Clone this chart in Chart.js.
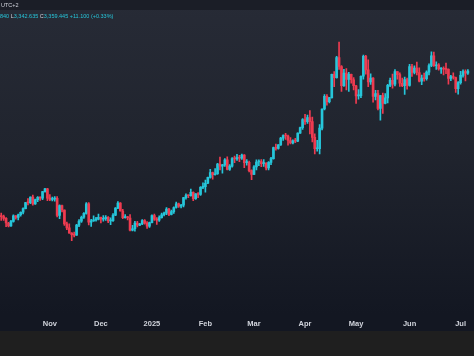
<!DOCTYPE html>
<html><head><meta charset="utf-8">
<script src="https://cdn.jsdelivr.net/npm/chart.js@4"></script>
<style>
html,body{margin:0;padding:0;width:474px;height:356px;overflow:hidden;background:#1f1f1f;}
#wrap{position:absolute;left:0;top:0;width:474px;height:331px;background:linear-gradient(to bottom,#272b36 0%,#20242e 45%,#131722 95%,#131722 100%);}
#topbar{position:absolute;left:0;top:0;width:474px;height:10px;background:#1b1e27;}
.t{position:absolute;font-family:"Liberation Sans",sans-serif;font-size:5.5px;line-height:6px;white-space:nowrap;}
canvas{position:absolute;left:0;top:0;}
</style></head>
<body>
<div id="wrap"></div>
<canvas id="c" width="474" height="340" style="width:474px;height:340px"></canvas>
<div id="topbar"></div>
<div class="t" style="left:1px;top:2px;color:#d1d4dc">UTC+2</div>
<div class="t" style="left:0px;top:13px;color:#d1d4dc"><span style="color:#26c6da">840</span> L<span style="color:#26c6da">3,342.635</span> C<span style="color:#26c6da">3,359.445</span> <span style="color:#26c6da">+11.100 (+0.33%)</span></div>
<script>
const dates = [
'2024-10-03','2024-10-04','2024-10-07','2024-10-08','2024-10-09','2024-10-10','2024-10-11','2024-10-14','2024-10-15','2024-10-16','2024-10-17','2024-10-18','2024-10-21','2024-10-22','2024-10-23','2024-10-24','2024-10-25','2024-10-28','2024-10-29','2024-10-30','2024-10-31',
'2024-11-01','2024-11-04','2024-11-05','2024-11-06','2024-11-07','2024-11-08','2024-11-11','2024-11-12','2024-11-13','2024-11-14','2024-11-15','2024-11-18','2024-11-19','2024-11-20','2024-11-21','2024-11-22','2024-11-25','2024-11-26','2024-11-27','2024-11-28','2024-11-29',
'2024-12-02','2024-12-03','2024-12-04','2024-12-05','2024-12-06','2024-12-09','2024-12-10','2024-12-11','2024-12-12','2024-12-13','2024-12-16','2024-12-17','2024-12-18','2024-12-19','2024-12-20','2024-12-23','2024-12-24','2024-12-26','2024-12-27','2024-12-30','2024-12-31',
'2025-01-02','2025-01-03','2025-01-06','2025-01-07','2025-01-08','2025-01-09','2025-01-10','2025-01-13','2025-01-14','2025-01-15','2025-01-16','2025-01-17','2025-01-20','2025-01-21','2025-01-22','2025-01-23','2025-01-24','2025-01-27','2025-01-28','2025-01-29','2025-01-30','2025-01-31',
'2025-02-03','2025-02-04','2025-02-05','2025-02-06','2025-02-07','2025-02-10','2025-02-11','2025-02-12','2025-02-13','2025-02-14','2025-02-17','2025-02-18','2025-02-19','2025-02-20','2025-02-21','2025-02-24','2025-02-25','2025-02-26','2025-02-27','2025-02-28',
'2025-03-03','2025-03-04','2025-03-05','2025-03-06','2025-03-07','2025-03-10','2025-03-11','2025-03-12','2025-03-13','2025-03-14','2025-03-17','2025-03-18','2025-03-19','2025-03-20','2025-03-21','2025-03-24','2025-03-25','2025-03-26','2025-03-27','2025-03-28','2025-03-31',
'2025-04-01','2025-04-02','2025-04-03','2025-04-04','2025-04-07','2025-04-08','2025-04-09','2025-04-10','2025-04-11','2025-04-14','2025-04-15','2025-04-16','2025-04-17','2025-04-21','2025-04-22','2025-04-23','2025-04-24','2025-04-25','2025-04-28','2025-04-29','2025-04-30',
'2025-05-01','2025-05-02','2025-05-05','2025-05-06','2025-05-07','2025-05-08','2025-05-09','2025-05-12','2025-05-13','2025-05-14','2025-05-15','2025-05-16','2025-05-19','2025-05-20','2025-05-21','2025-05-22','2025-05-23','2025-05-26','2025-05-27','2025-05-28','2025-05-29','2025-05-30',
'2025-06-02','2025-06-03','2025-06-04','2025-06-05','2025-06-06','2025-06-09','2025-06-10','2025-06-11','2025-06-12','2025-06-13','2025-06-16','2025-06-17','2025-06-18','2025-06-19','2025-06-20','2025-06-23','2025-06-24','2025-06-25','2025-06-26','2025-06-27','2025-06-30',
'2025-07-01','2025-07-02','2025-07-03','2025-07-04'];

const opens = [
2659,2656,2653,2644,2622,2608,2630,2657,2649,2662,2674,2692,2721,2720,2748,2715,2735,2747,2743,2774,2788,
2743,2736,2738,2742,2659,2706,2685,2618,2598,2573,2565,2563,2612,2631,2650,2669,2715,2626,2632,2637,2640,
2650,2640,2643,2650,2632,2633,2660,2694,2718,2680,2648,2652,2646,2587,2594,2622,2612,2617,2634,2621,2606,
2624,2658,2640,2636,2648,2662,2670,2690,2663,2677,2697,2715,2703,2708,2745,2755,2754,2771,2740,2763,2760,2795,
2798,2815,2843,2867,2856,2861,2908,2898,2904,2928,2882,2898,2935,2933,2939,2936,2951,2915,2916,2876,
2858,2894,2918,2920,2910,2911,2889,2916,2934,2988,2984,3001,3034,3046,3044,3022,3011,3020,3019,3058,3085,
3124,3113,3133,3114,3037,2982,2983,3082,3175,3237,3211,3230,3343,3327,3424,3381,3288,3349,3319,3343,3317,
3288,3239,3240,3334,3431,3365,3306,3325,3236,3250,3178,3240,3202,3229,3290,3314,3295,3357,3342,3300,3288,3318,
3289,3381,3353,3374,3352,3310,3325,3322,3354,3386,3433,3385,3389,3369,3371,3368,3367,3323,3332,3328,3274,
3303,3338,3357,3348.345];

const highs = [
2672,2670,2660,2648,2625,2635,2661,2658,2665,2676,2696,2722,2740,2749,2758,2738,2750,2749,2775,2790,2790,
2760,2748,2750,2750,2710,2709,2686,2627,2618,2576,2578,2615,2639,2655,2673,2721,2721,2640,2657,2649,2665,
2651,2658,2658,2653,2647,2668,2697,2726,2721,2688,2663,2654,2663,2611,2630,2630,2620,2638,2638,2629,2627,
2662,2665,2648,2657,2670,2675,2697,2693,2685,2700,2724,2718,2712,2746,2763,2759,2786,2773,2765,2770,2799,2817,
2830,2845,2882,2869,2886,2911,2942,2906,2935,2943,2905,2939,2947,2955,2950,2956,2954,2930,2922,2880,
2900,2928,2928,2930,2930,2915,2920,2940,2990,3005,3003,3038,3050,3057,3048,3036,3025,3033,3060,3087,3128,
3149,3145,3167,3136,3055,3023,3099,3176,3245,3245,3232,3345,3357,3430,3500,3386,3367,3371,3353,3345,3328,
3290,3269,3336,3437,3435,3414,3346,3327,3266,3266,3241,3252,3250,3295,3325,3345,3366,3357,3350,3325,3330,3325,
3392,3392,3385,3403,3375,3340,3349,3360,3394,3452,3451,3404,3395,3376,3380,3398,3370,3338,3350,3330,3308,
3358,3365,3365,3365.840];

const lows = [
2643,2635,2635,2604,2603,2605,2626,2640,2637,2655,2666,2690,2710,2716,2708,2712,2725,2731,2735,2771,2730,
2730,2729,2728,2652,2643,2676,2610,2589,2572,2536,2555,2562,2604,2625,2644,2665,2613,2605,2630,2631,2637,
2622,2631,2634,2624,2614,2629,2658,2692,2679,2643,2645,2637,2583,2584,2582,2603,2609,2614,2616,2596,2601,
2622,2635,2615,2630,2645,2656,2662,2657,2661,2668,2694,2697,2695,2700,2738,2745,2752,2730,2736,2745,2756,2788,
2772,2813,2840,2835,2854,2858,2880,2864,2896,2879,2877,2893,2915,2925,2920,2930,2890,2903,2870,2832,
2856,2880,2900,2895,2897,2880,2880,2905,2932,2975,2980,2998,3022,3027,2999,3005,3005,3012,3016,3056,3076,
3100,3105,3054,3015,2957,2970,2957,3073,3170,3193,3205,3228,3283,3325,3367,3260,3284,3268,3260,3300,3268,
3202,3223,3230,3320,3344,3283,3294,3208,3219,3171,3121,3154,3200,3205,3283,3276,3287,3320,3285,3283,3246,3271,
3286,3333,3345,3340,3306,3293,3310,3315,3340,3380,3382,3367,3363,3348,3340,3347,3295,3312,3320,3255,3247,
3296,3329,3311,3342.635];

const closes = [
2656,2653,2644,2622,2608,2630,2657,2649,2662,2674,2692,2721,2720,2748,2715,2735,2747,2743,2774,2788,2743,
2736,2738,2742,2659,2706,2685,2618,2598,2573,2565,2563,2612,2631,2650,2669,2715,2626,2632,2637,2640,2650,
2640,2643,2650,2632,2633,2660,2694,2718,2680,2648,2652,2646,2587,2594,2622,2612,2617,2634,2621,2606,2624,
2658,2640,2636,2648,2662,2670,2690,2663,2677,2697,2715,2703,2708,2745,2755,2754,2771,2740,2763,2760,2795,2798,
2815,2843,2867,2856,2861,2908,2898,2904,2928,2882,2898,2935,2933,2939,2936,2951,2915,2916,2876,2858,
2894,2918,2920,2910,2911,2889,2916,2934,2988,2984,3001,3034,3046,3044,3022,3011,3020,3019,3058,3085,3124,
3113,3133,3114,3037,2982,2983,3082,3175,3237,3211,3230,3343,3327,3424,3381,3288,3349,3319,3343,3317,3288,
3239,3240,3334,3431,3365,3306,3325,3236,3250,3178,3240,3202,3229,3290,3314,3295,3357,3342,3300,3288,3318,3289,
3381,3353,3374,3352,3310,3325,3322,3354,3386,3433,3385,3389,3369,3371,3368,3367,3323,3332,3328,3274,3303,
3338,3357,3348.345,3359.445];

const monthTickDates = ['2024-11-01','2024-12-02','2025-01-02','2025-02-03','2025-03-03','2025-04-01','2025-05-01','2025-06-02','2025-07-01'];
const monthTickLabels = ['Nov','Dec','2025','Feb','Mar','Apr','May','Jun','Jul'];

const upColor = '#26c6da', downColor = '#ef3b50';
const candleColors = closes.map((c,i)=> c >= opens[i] ? upColor : downColor);

new Chart(document.getElementById('c'), {
  type: 'bar',
  data: {
    datasets: [
      { label:'wick', data: dates.map((d,i)=>({x:i, y:[lows[i], highs[i]]})), backgroundColor: candleColors, barThickness: 1, grouped:false, order:2 },
      { label:'body', data: dates.map((d,i)=>({x:i, y:[opens[i], closes[i]]})), backgroundColor: candleColors, barThickness: 2, grouped:false, order:1, minBarLength:1 }
    ]
  },
  options: {
    responsive:false, animation:false,
    layout:{padding:{top:28,bottom:4,left:0,right:0}},
    plugins:{legend:{display:false}, tooltip:{enabled:false}},
    scales:{
      x:{ type:'linear', min:0.49, max:194.75, offset:false,
          grid:{display:false, drawTicks:false}, border:{display:false},
          afterBuildTicks: s => { s.ticks = monthTickDates.map(d => ({value: dates.indexOf(d)})); },
          ticks:{ color:'#d1d4dc', autoSkip:false, maxRotation:0, padding:8,
                  font:{family:'Liberation Sans', size:7.5, weight:'bold'},
                  callback:(v,i)=> monthTickLabels[i] } },
      y:{ display:false, min:2195, max:3568 }
    }
  }
});
</script>
</body></html>
